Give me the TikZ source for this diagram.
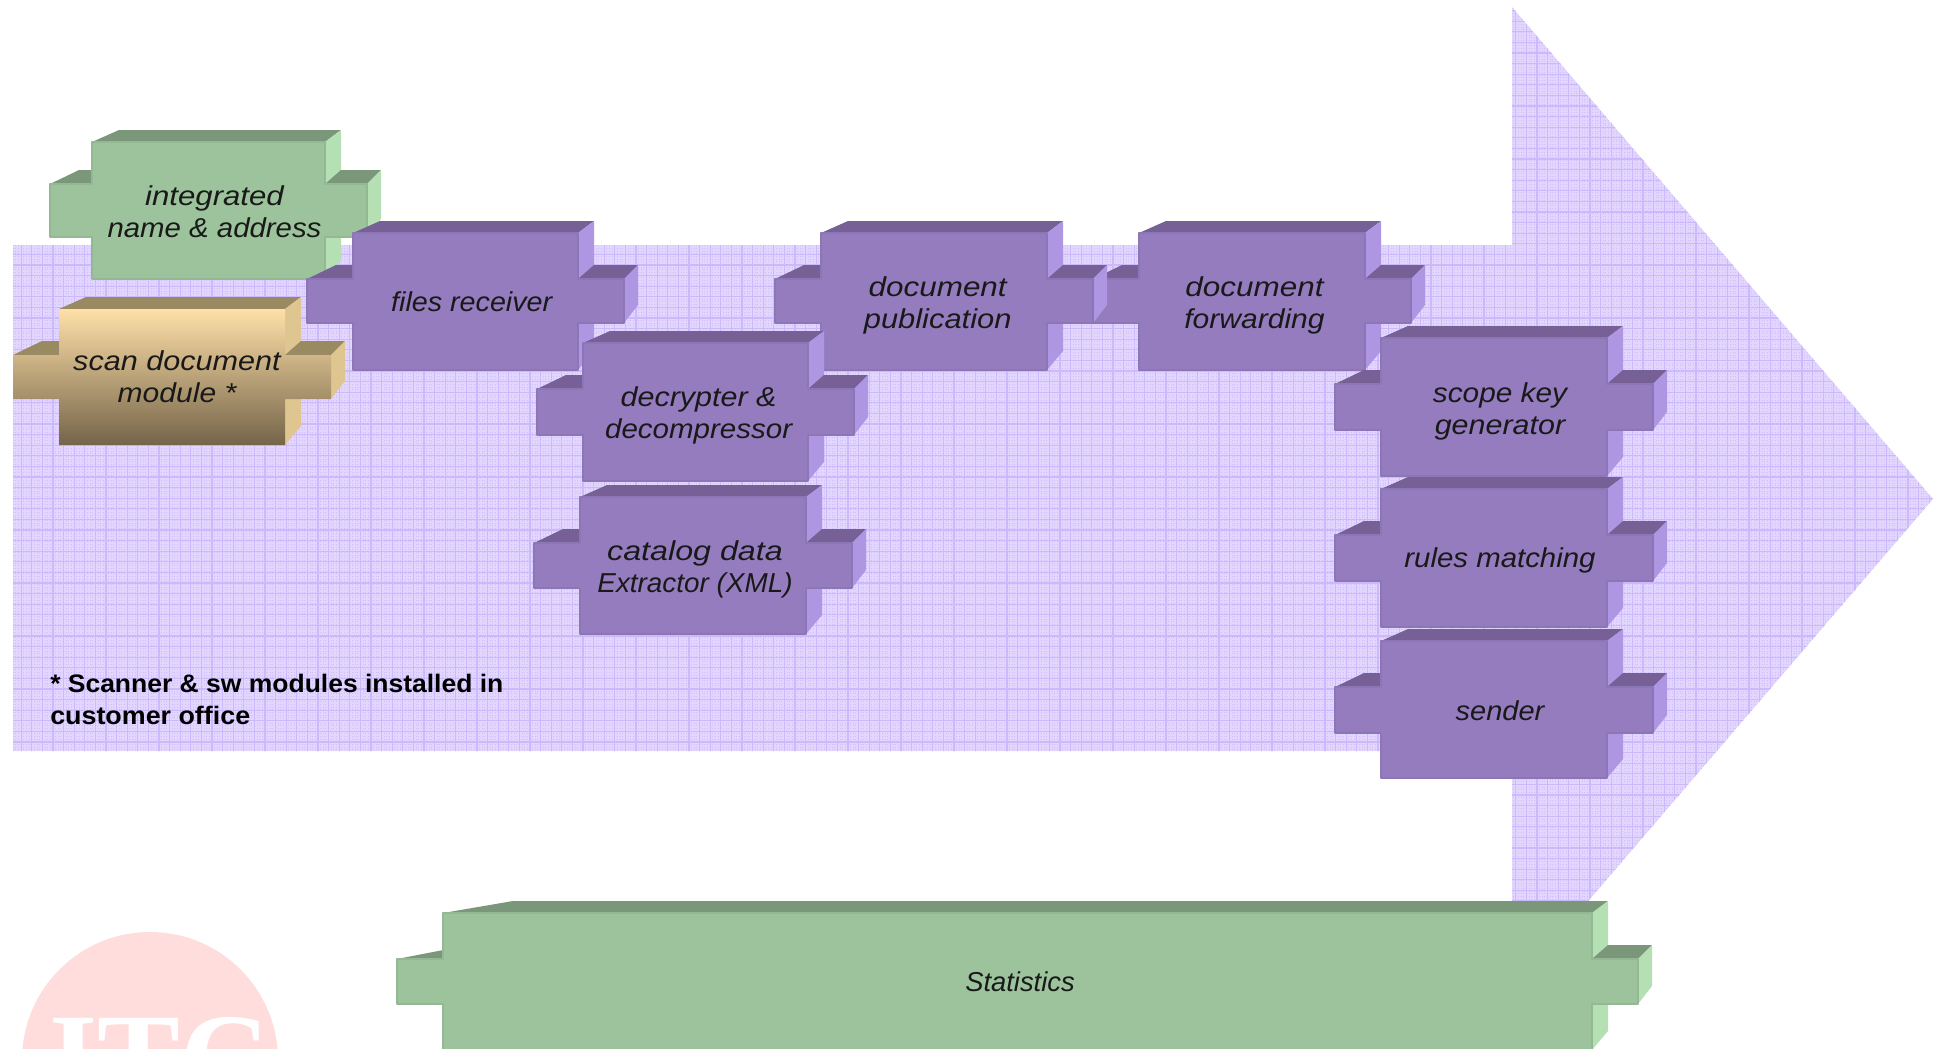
\documentclass[tikz,border=0pt]{standalone}
\usepackage{fontspec}
\setmainfont{Liberation Sans}
\newfontfamily\wmfont{Liberation Serif}
\usetikzlibrary{calc}
\definecolor{arrowbg}{HTML}{E2D6FF}
\definecolor{arrowfine}{HTML}{CFBEFF}
\definecolor{arrowgrid}{HTML}{CBB9FC}
\definecolor{pfront}{HTML}{947CBF}
\definecolor{ptop}{HTML}{766096}
\definecolor{pside}{HTML}{AE96E3}
\definecolor{pedge}{HTML}{8C76B6}
\definecolor{gfront}{HTML}{9CC39C}
\definecolor{gtop}{HTML}{7A977A}
\definecolor{gside}{HTML}{B4E0B4}
\definecolor{gedge}{HTML}{93B893}
\definecolor{stop}{HTML}{998A62}
\definecolor{sside}{HTML}{DFC58F}
\definecolor{shi}{HTML}{FFE0A8}
\definecolor{slo}{HTML}{746449}
\definecolor{wmpink}{HTML}{FFDDDD}
\newcommand{\sx}[2]{\scalebox{#1}[1]{#2}}
\tikzset{
  x=0.75pt,y=-0.75pt,
  complabel/.style={font=\fontsize{20.5pt}{24pt}\selectfont\itshape,align=center,text=black!90,inner sep=0pt},
  notelabel/.style={font=\fontsize{19pt}{24pt}\selectfont\bfseries,align=left,text=black,inner sep=0pt,anchor=north west},
  wmlabel/.style={font=\wmfont\bfseries\fontsize{93pt}{93pt}\selectfont,text=white,inner sep=0pt,anchor=base},
  topface/.style={fill=ctop},
  sideface/.style={fill=cside},
  frontface/.style={fill=cfront,draw=cedge,line width=0.9pt,line join=round},
  finegrid/.style={arrowfine,line width=0.7pt,dash pattern=on 0.7pt off 1.3pt},
  coarsegrid/.style={arrowgrid,line width=0.8pt},
}
% geometry: x left, y top, width, height, tab offset, tab height, back dx left, tab width
\newcommand{\blockgeom}[8]{%
  \def\bx{#1}\def\by{#2}\def\bw{#3}\def\bh{#4}\def\bo{#5}\def\bt{#6}\def\bl{#7}\def\tw{#8}%
  \pgfmathsetmacro{\xr}{\bx+\bw}\pgfmathsetmacro{\yb}{\by+\bh}
  \pgfmathsetmacro{\tl}{\bx-\tw}\pgfmathsetmacro{\trr}{\xr+\tw}
  \pgfmathsetmacro{\ta}{\by+\bo}\pgfmathsetmacro{\tb}{\ta+\bt}
}
\newcommand{\blockback}{%
  \fill[topface] (\bx,\by) -- (\bx+\bl,\by-12) -- (\xr+16,\by-12) -- (\xr,\by) -- cycle;
  \fill[sideface] (\xr,\by) -- (\xr+16,\by-12) -- (\xr+16,\yb-19) -- (\xr,\yb) -- cycle;
  \fill[topface] (\tl,\ta) -- (\tl+\bl+2,\ta-14) -- (\bx,\ta-14) -- (\bx,\ta) -- cycle;
  \fill[topface] (\xr,\ta) -- (\xr+16,\ta-14) -- (\trr+14,\ta-14) -- (\trr,\ta) -- cycle;
  \fill[sideface] (\trr,\ta) -- (\trr+14,\ta-14) -- (\trr+14,\tb-18) -- (\trr,\tb) -- cycle;
}
\newcommand{\crosspath}{(\bx,\by) -- (\xr,\by) -- (\xr,\ta) -- (\trr,\ta) -- (\trr,\tb) -- (\xr,\tb) -- (\xr,\yb) -- (\bx,\yb) -- (\bx,\tb) -- (\tl,\tb) -- (\tl,\ta) -- (\bx,\ta) -- cycle}
\newcommand{\block}[8]{%
  \blockgeom{#1}{#2}{#3}{#4}{#5}{#6}{#7}{#8}
  \blockback
  \draw[frontface] \crosspath;
}
\colorlet{ctop}{ptop}\colorlet{cside}{pside}\colorlet{cfront}{pfront}\colorlet{cedge}{pedge}
\begin{document}
\begin{tikzpicture}
\useasboundingbox (0,0) rectangle (1939,1049);
\begin{scope}
\clip (0,0) rectangle (1939,1049);
% watermark
\fill[wmpink] (150,1060) circle [radius=128];
\node[wmlabel] (wm) at (160,1099) {ITC};
% big arrow
\begin{scope}
\path[clip] (13,245) -- (1512,245) -- (1512,7) -- (1933,499) -- (1512,990) -- (1512,751) -- (13,751) -- cycle;
\fill[arrowbg] (0,0) rectangle (1939,1049);
\foreach \i in {0,1,...,734} { \draw[finegrid] ({\i*2.65},0) -- ({\i*2.65},1049); }
\foreach \i in {0,1,...,183} { \draw[coarsegrid] ({\i*10.6},0) -- ({\i*10.6},1049); }
\foreach \i in {0,1,...,99} { \draw[coarsegrid] (0,{\i*10.6}) -- (1939,{\i*10.6}); }
\end{scope}
% green
\colorlet{ctop}{gtop}\colorlet{cside}{gside}\colorlet{cfront}{gfront}\colorlet{cedge}{gedge}
\block{92}{142}{233}{137}{42}{53}{27}{42}
\node[complabel] (integrated) at (214.5,211.5) {\sx{1.14}{integrated}\\\sx{1.075}{name \& address}};
% scan
\colorlet{ctop}{stop}\colorlet{cside}{sside}
\blockgeom{59}{309}{226}{136}{46}{44}{27}{46}
\blockback
\shade[top color=shi,bottom color=slo] \crosspath;
\node[complabel] (scan) at (177,377) {\sx{1.12}{scan document}\\\sx{1.1}{module *}};
% purple
\colorlet{ctop}{ptop}\colorlet{cside}{pside}\colorlet{cfront}{pfront}\colorlet{cedge}{pedge}
\block{353}{233}{225}{137}{46}{44}{27}{46}
\node[complabel] (files) at (471.7,302) {\sx{1.05}{files receiver}};
\block{1139}{233}{226}{137}{46}{44}{27}{46}
\node[complabel] (forwarding) at (1254.5,305) {\sx{1.15}{document}\\\sx{1.1}{forwarding}};
\block{821}{233}{226}{137}{46}{44}{27}{46}
\node[complabel] (publication) at (937.7,305) {\sx{1.15}{document}\\\sx{1.13}{publication}};
\block{583}{343}{225}{138}{46}{46}{27}{46}
\node[complabel] (decrypter) at (698.6,415) {\sx{1.115}{decrypter \&}\\\sx{1.08}{decompressor}};
\block{580}{497}{226}{137}{46}{45}{27}{46}
\node[complabel] (catalog) at (695,569) {\sx{1.18}{catalog data}\\\sx{1.02}{Extractor (XML)}};
\block{1381}{338}{226}{138}{46}{46}{27}{46}
\node[complabel] (scopekey) at (1500,411) {\sx{1.09}{scope key}\\\sx{1.115}{generator}};
\block{1381}{489}{226}{138}{46}{46}{27}{46}
\node[complabel] (rules) at (1500,560.5) {\sx{1.076}{rules matching}};
\block{1381}{641}{226}{137}{46}{46}{27}{46}
\node[complabel] (sender) at (1500,710.5) {\sx{1.06}{sender}};
% statistics
\colorlet{ctop}{gtop}\colorlet{cside}{gside}\colorlet{cfront}{gfront}\colorlet{cedge}{gedge}
\block{443}{913}{1149}{137}{46}{45}{70}{46}
\node[complabel] (statistics) at (1020,981.5) {Statistics};
\node[notelabel] (note) at (50,674) {\sx{1.045}{* Scanner \& sw modules installed in}\\\sx{1.06}{customer office}};
\end{scope}
\end{tikzpicture}
\end{document}
